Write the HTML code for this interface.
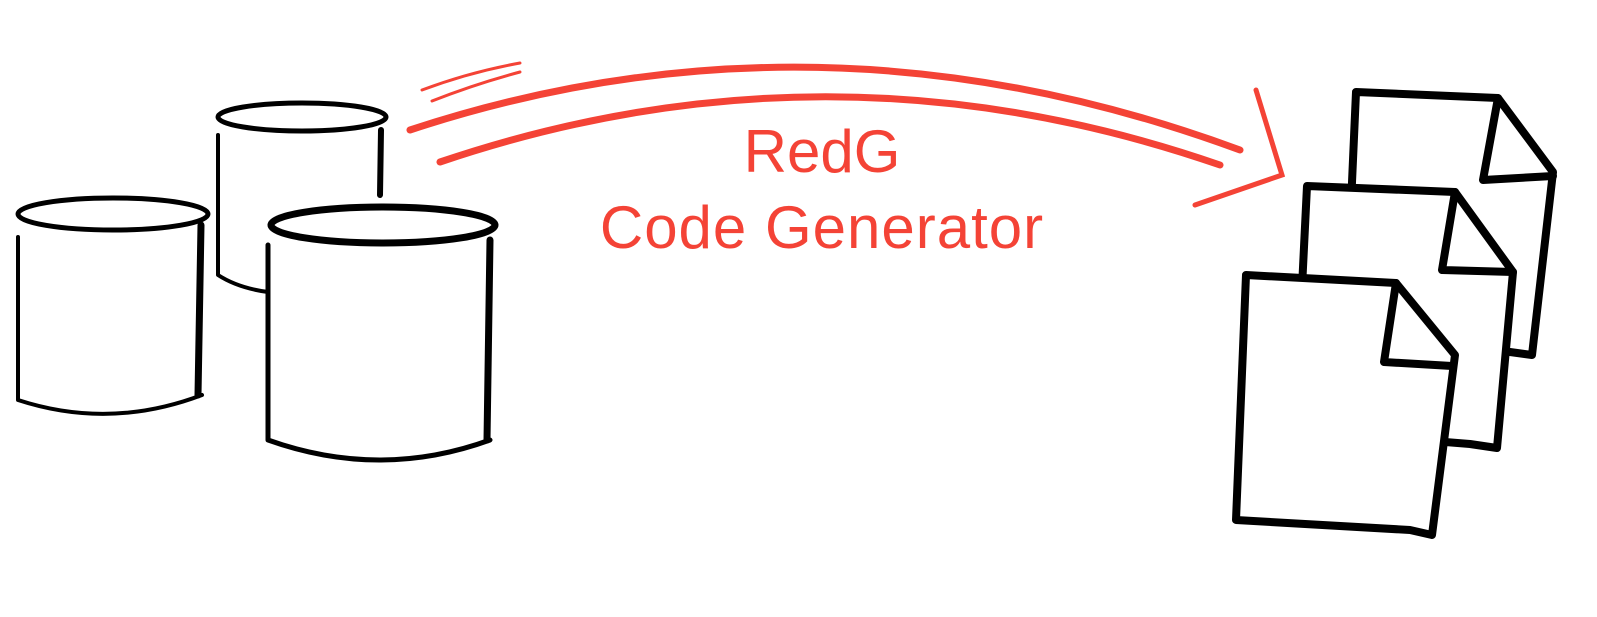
<!DOCTYPE html>
<html><head><meta charset="utf-8"><style>
html,body{margin:0;padding:0;background:#fff;width:1597px;height:617px;overflow:hidden}
</style></head><body>
<svg width="1597" height="617" viewBox="0 0 1597 617" xmlns="http://www.w3.org/2000/svg">
<g fill="none" stroke="#f44336" stroke-linecap="round">
  <path d="M410 130 Q820 -5 1240 150" stroke-width="7"/>
  <path d="M440 162 Q830 30 1220 165" stroke-width="7"/>
  <path d="M422 90 Q470 72 520 63" stroke-width="3"/>
  <path d="M432 101 Q475 84 520 72" stroke-width="3"/>
  <path d="M1256 90 L1282 175 L1195 205" stroke-width="5"/>
</g>
<g fill="#f44336" font-family="Liberation Sans, sans-serif" font-size="60" text-anchor="middle">
  <text x="822" y="172">RedG</text>
  <text x="822" y="248" letter-spacing="1">Code Generator</text>
</g>
<g stroke="#000" stroke-linecap="round" stroke-linejoin="round" fill="#fff">
  <path d="M218 135 L218 275 Q240 290 270 293 L380 293 L380 135 Z" stroke="none"/>
  <path d="M218 135 L218 275 Q238 288 268 292" fill="none" stroke-width="4"/>
  <path d="M381 130 L380 195" fill="none" stroke-width="6"/>
  <ellipse cx="302" cy="117" rx="84" ry="14" stroke-width="5"/>
  <path d="M18 237 L18 400 Q110 430 200 395 L202 225 Z" stroke="none"/>
  <path d="M18 237 L18 400 Q110 430 202 395" fill="none" stroke-width="4"/>
  <path d="M201 225 L198 395" fill="none" stroke-width="7"/>
  <ellipse cx="113" cy="214" rx="95" ry="16" stroke-width="5"/>
  <path d="M268 245 L268 440 Q380 480 490 440 L490 240 Z" stroke="none"/>
  <path d="M268 245 L268 440 Q380 480 490 440" fill="none" stroke-width="5"/>
  <path d="M490 240 L487 440" fill="none" stroke-width="7"/>
  <ellipse cx="383" cy="225" rx="112" ry="18" stroke-width="7"/>
</g>
<g stroke="#000" stroke-width="8" stroke-linejoin="round" stroke-linecap="round" fill="#fff">
  <path d="M1356 92 L1498 98 L1553 172 L1532 355 L1510 352 L1345 340 Z"/>
  <path d="M1498 98 L1483 180 L1553 176" fill="none"/>
  <path d="M1307 186 L1455 192 L1513 272 L1497 448 L1470 444 L1295 430 Z"/>
  <path d="M1455 192 L1442 270 L1513 272" fill="none"/>
  <path d="M1246 275 L1396 283 L1455 355 L1432 535 L1410 530 L1236 520 Z"/>
  <path d="M1396 283 L1384 362 L1452 366" fill="none"/>
</g>
</svg>
</body></html>
